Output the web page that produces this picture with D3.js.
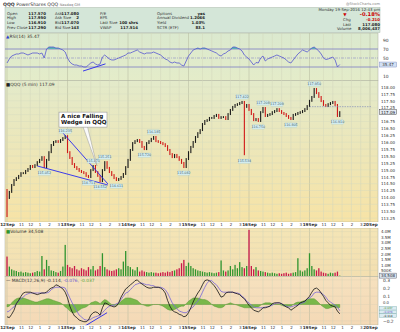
<!DOCTYPE html>
<html><head><meta charset="utf-8">
<script src="https://cdn.jsdelivr.net/npm/d3@7"></script>
<style>
html,body{margin:0;padding:0;background:#fff;}
svg{display:block;font-family:"DejaVu Sans",Verdana,sans-serif;}
</style></head><body>
<svg id="c" width="400" height="332"></svg>
<script>
// ---------- DATA (15-minute sampling of the 5-min chart) ----------
const dayLabels = ["12Sep","13Sep","14Sep","15Sep","16Sep","19Sep","20Sep"];
const hourLabels = ["11","12","1","2","3"];
const hourClock = [11,12,13,14,15];
const priceClose = [
113.98,114.20,114.45,114.63,114.70,114.78,114.88,114.88,114.96,115.03,115.14,115.10,115.17,115.28,115.36,115.46,115.10,115.36,115.64,115.90,116.01,116.04,116.01,116.08,116.15,116.22,
115.64,115.43,115.21,115.10,115.03,114.96,114.92,114.88,114.78,114.74,114.99,115.14,114.92,114.78,114.59,114.99,115.28,115.07,114.92,114.81,114.70,114.63,114.67,114.74,114.85,115.10,
115.36,115.72,115.97,116.04,116.08,116.01,115.83,115.75,115.97,116.04,116.12,116.19,116.04,116.01,115.97,115.93,115.86,115.72,115.57,115.46,115.54,115.46,115.36,115.25,115.10,115.39,
115.64,115.83,116.01,116.19,116.33,116.44,116.66,116.77,116.80,116.88,116.88,116.95,116.99,116.88,116.91,116.91,116.84,117.02,117.17,117.28,117.35,117.38,117.42,117.46,117.28,117.35,
117.17,117.02,116.80,116.84,116.77,117.09,117.24,116.95,116.99,117.02,117.09,117.13,117.20,117.13,117.06,117.02,116.95,116.88,116.84,116.99,117.02,117.06,117.09,117.13,117.20,117.31,
117.50,117.64,117.93,117.78,117.64,117.49,117.35,117.31,117.38,117.42,117.46,117.35,116.95,117.09];
const firstOpen = 114.27;
const spikeBar = [0, 306];
const spikeHigh = [114.27, 117.46];
const spikeLow = [113.29, 115.53];
const prevClose = 117.29;
const volumeM = [
1.75,0.85,0.6,0.5,0.45,0.35,0.4,0.3,0.35,0.3,0.25,0.3,0.35,0.45,0.4,1.8,0.6,1.45,0.9,0.5,0.45,0.35,0.3,0.45,0.85,2.8,
1.0,0.8,0.7,0.9,0.6,0.5,0.7,0.6,0.5,0.8,0.6,0.9,0.5,0.6,0.9,2.05,0.8,0.6,0.5,0.45,0.5,0.6,0.7,0.6,1.3,2.25,
0.9,0.8,0.6,0.5,0.8,0.4,0.5,0.4,0.35,0.3,0.35,0.3,0.3,0.25,0.3,0.35,0.3,0.4,0.35,0.45,0.5,0.6,0.7,1.15,1.45,0.9,
1.2,0.9,0.7,0.6,0.5,0.45,0.4,0.35,0.3,0.35,0.3,0.25,0.3,0.35,1.4,0.5,0.4,0.5,0.9,0.6,1.0,0.7,1.25,0.8,0.7,0.9,
4.15,0.9,0.6,0.8,0.5,0.45,0.4,0.35,0.3,0.25,0.3,0.25,0.2,0.25,0.2,0.25,0.3,0.2,0.25,0.3,0.35,1.6,0.5,0.4,0.5,0.7,
2.05,0.9,0.6,0.5,0.7,0.4,0.3,0.25,0.2,0.3,0.25,0.3,0.4,0.0345];
const rsi = [
38.9,47.8,54.4,56.7,58.9,58.9,61.1,61.1,58.9,56.7,58.9,61.1,61.1,61.1,58.9,61.1,50.0,70.0,74.4,74.4,74.4,72.2,72.2,70.0,67.8,63.3,
50.0,41.1,36.7,34.4,34.4,32.2,32.2,30.0,30.0,34.4,38.9,41.1,36.7,34.4,36.7,52.2,56.7,52.2,47.8,45.6,45.6,47.8,50.0,52.2,54.4,56.7,
61.1,61.1,63.3,65.6,67.8,63.3,61.1,58.9,61.1,61.1,61.1,63.3,61.1,58.9,56.7,52.2,47.8,45.6,41.1,38.9,41.1,38.9,38.9,34.4,32.2,43.3,
54.4,61.1,67.8,70.0,72.2,70.0,72.2,72.2,70.0,67.8,65.6,63.3,61.1,56.7,54.4,58.9,61.1,65.6,67.8,74.4,74.4,72.2,70.0,65.6,56.7,52.2,
47.8,41.1,34.4,40.0,38.9,50.0,54.4,43.3,47.8,50.0,52.2,54.4,56.7,54.4,52.2,50.0,45.6,41.1,38.9,45.6,52.2,58.9,63.3,67.8,65.6,63.3,
67.8,72.2,74.4,70.0,65.6,58.9,50.0,46.7,47.8,50.0,52.2,45.6,30.0,35.47];
const macd = [
-0.15,-0.16,-0.12,-0.07,0.01,0.05,0.10,0.14,0.15,0.15,0.15,0.14,0.13,0.12,0.13,0.14,0.14,0.15,0.18,0.20,0.21,0.24,0.23,0.21,0.19,0.15,
0.08,-0.02,-0.09,-0.14,-0.16,-0.19,-0.20,-0.21,-0.21,-0.19,-0.13,-0.10,-0.09,-0.10,-0.13,-0.04,0.02,0.01,-0.01,-0.02,-0.03,-0.02,0.02,0.09,0.14,0.19,
0.21,0.24,0.26,0.29,0.30,0.27,0.25,0.23,0.21,0.20,0.20,0.21,0.21,0.21,0.20,0.18,0.14,0.05,-0.02,-0.07,-0.09,-0.10,-0.12,-0.13,-0.15,-0.14,
-0.10,-0.04,0.03,0.09,0.14,0.18,0.24,0.29,0.30,0.29,0.26,0.23,0.19,0.14,0.09,0.10,0.14,0.15,0.15,0.15,0.14,0.13,0.12,0.09,0.07,0.03,
-0.01,-0.04,-0.07,-0.08,-0.09,-0.07,-0.04,-0.04,-0.03,-0.02,0.01,0.02,0.02,0.02,0.01,-0.01,-0.03,-0.04,-0.07,-0.05,-0.03,-0.01,0.02,0.03,0.04,0.07,
0.10,0.15,0.19,0.20,0.18,0.14,0.10,0.05,0.02,-0.01,-0.02,-0.03,-0.08,-0.114];
const signal = [
-0.09,-0.08,-0.05,-0.03,0.01,0.04,0.07,0.09,0.12,0.13,0.14,0.14,0.14,0.14,0.14,0.14,0.14,0.14,0.15,0.18,0.20,0.21,0.21,0.21,0.21,0.20,
0.14,0.08,0.02,-0.03,-0.08,-0.13,-0.15,-0.18,-0.19,-0.19,-0.18,-0.16,-0.15,-0.14,-0.13,-0.10,-0.07,-0.04,-0.02,-0.01,-0.01,0.01,0.02,0.06,0.10,0.14,
0.15,0.18,0.21,0.24,0.25,0.26,0.26,0.25,0.24,0.24,0.23,0.23,0.21,0.21,0.21,0.20,0.18,0.14,0.08,0.02,-0.02,-0.05,-0.08,-0.09,-0.10,-0.10,
-0.08,-0.05,-0.03,0.01,0.04,0.09,0.15,0.21,0.26,0.29,0.29,0.26,0.24,0.20,0.16,0.15,0.15,0.15,0.15,0.15,0.14,0.14,0.13,0.10,0.08,0.04,
0.02,-0.01,-0.03,-0.04,-0.04,-0.04,-0.04,-0.03,-0.03,-0.02,-0.01,0.01,0.02,0.02,0.01,-0.01,-0.02,-0.03,-0.03,-0.02,-0.01,-0.01,0.01,0.02,0.03,0.07,
0.08,0.10,0.14,0.15,0.15,0.14,0.12,0.09,0.05,0.03,0.01,-0.01,-0.03,-0.076];
const histogram = [
-0.03,-0.02,0.02,0.05,0.07,0.08,0.08,0.08,0.07,0.06,0.05,0.04,0.03,0.03,0.04,0.05,0.06,0.07,0.07,0.06,0.05,0.04,0.03,0.02,0.0,-0.03,
-0.05,-0.08,-0.10,-0.10,-0.09,-0.07,-0.05,-0.04,-0.03,-0.01,0.02,0.03,0.04,0.03,0.01,0.04,0.06,0.05,0.02,0.0,-0.01,-0.01,0.01,0.04,0.06,0.08,
0.08,0.08,0.07,0.06,0.05,0.02,0.0,-0.01,-0.02,-0.02,-0.01,0.0,0.0,0.0,-0.01,-0.02,-0.04,-0.06,-0.07,-0.07,-0.06,-0.05,-0.03,-0.02,-0.02,0.01,
0.04,0.06,0.08,0.08,0.08,0.07,0.06,0.06,0.05,0.03,0.0,-0.02,-0.03,-0.04,-0.04,-0.03,0.0,0.01,0.02,0.01,0.0,-0.01,-0.02,-0.03,-0.04,-0.04,
-0.04,-0.04,-0.04,-0.03,-0.03,-0.01,0.01,0.02,0.02,0.02,0.01,0.0,0.0,0.0,-0.01,-0.02,-0.02,-0.02,-0.02,0.0,0.02,0.03,0.03,0.04,0.05,0.06,
0.07,0.07,0.07,0.05,0.02,-0.01,-0.03,-0.05,-0.05,-0.04,-0.03,-0.03,-0.04,-0.037];
// price annotations: bar index, price, text, side
const annBar   = [48,75,105,111,120,126,141,177,189,228,303,306,324,330,348,366,396,426];
const annPrice = [115.10,116.22,114.74,115.14,114.59,115.28,114.63,115.75,116.19,115.10,117.46,115.53,116.77,117.24,117.20,116.84,117.93,116.95];
const annText  = ["115.052","116.235","114.711","115.171","114.552","115.251","114.611","115.720","116.185","115.082","117.422","115.534","116.750","117.208","117.209","116.805","117.950","116.910"];
const annSide  = ["below","above","below","above","below","above","below","below","above","below","above","below","below","above","above","below","above","below"];
// trend lines (bar index, value)
const wedgeLower = [[39,115.14],[130,114.45]];
const wedgeUpper = [[71,116.37],[130,114.49]];
const rsiTrend = [[98,21],[127,37]];
const macdTrend = [[101,-0.26],[129,-0.10]];
const callout = {bar:67, price:117.09, tipBar:116, tipPrice:115.14, lines:["A nice Falling","Wedge in QQQ"]};
const infoRows = [
 ["Open","117.570","Ask","117.080","P/E","","Options","yes"],
 ["High","117.950","Ask Size","2","EPS","","Annual Dividend","1.2066"],
 ["Low","116.910","Bid","117.070","Last Size","100 shrs","Yield","1.03%"],
 ["Prev Close","117.290","Bid Size","143","VWAP","117.514","SCTR (ETF)","83.1"]];
const lastInfo = {date:"Monday 19-Sep-2016 12:43 pm", pct:"-0.18%", chg:"-0.210", last:"117.080", volume:"8,006,437"};

// ---------- SCALES ----------
const svg = d3.select("#c");
const L = 5, R = 378;
const X = d3.scaleLinear().domain([-2.6, 478.3]).range([L, R]);
const barOf = j => Math.floor(j/26)*78 + (j%26)*3;
const yR = d3.scaleLinear().domain([0,100]).range([80.5,35.5]);
const yP = d3.scaleLinear().domain([113.11,118.254]).range([222,80]);
const yV = d3.scaleLinear().domain([0,4.32]).range([276,228]);
const yM = d3.scaleLinear().domain([-0.25,0.335]).range([325,277]);
const FS = 4.4;
const IFS = 3.9;

const panels = [
 {id:"rsi", top:33, bot:80.5, c0:"#dbe9cf", c1:"#e4ecc9"},
 {id:"price", top:80.5, bot:222, c0:"#e3eaca", c1:"#f7e3a6"},
 {id:"vol", top:228, bot:276.5, c0:"#f4e5b6", c1:"#f3dfb0"},
 {id:"macd", top:276.5, bot:325, c0:"#f6e1be", c1:"#f4d9b6"}];
const defs = svg.append("defs");
panels.forEach(p=>{
  const g = defs.append("linearGradient").attr("id","g_"+p.id).attr("x1",0).attr("x2",0).attr("y1",0).attr("y2",1);
  g.append("stop").attr("offset","0%").attr("stop-color",p.c0);
  g.append("stop").attr("offset","100%").attr("stop-color",p.c1);
  svg.append("rect").attr("x",L).attr("y",p.top).attr("width",R-L).attr("height",p.bot-p.top)
    .attr("fill","url(#g_"+p.id+")").attr("stroke","#a9ad9a").attr("stroke-width",0.5);
});

// time ticks
const tickBars = [];
dayLabels.forEach((d,i)=>{ tickBars.push(i*78); hourClock.forEach(h=>tickBars.push(i*78 + (h-9.5)*12)); });
const visTicks = tickBars.filter(b=>X(b)>=L-1 && X(b)<=R);
const isDay = b => b%78===0;

// vertical grid
panels.forEach(p=>{
  svg.append("g").selectAll("line").data(visTicks).join("line")
    .attr("x1",b=>X(b)).attr("x2",b=>X(b)).attr("y1",p.top).attr("y2",p.bot)
    .attr("stroke",b=>isDay(b)?"#b3b79c":"#d2d6bc").attr("stroke-width",0.5);
});
// horizontal grid
const priceTicks = d3.range(0,20).map(i=>113.25+0.25*i);
svg.append("g").selectAll("line").data(priceTicks).join("line")
  .attr("x1",L).attr("x2",R).attr("y1",d=>yP(d)).attr("y2",d=>yP(d)).attr("stroke","#d5d8bf").attr("stroke-width",0.4);
const volTicks = [0.5,1,1.5,2,2.5,3,3.5,4];
svg.append("g").selectAll("line").data(volTicks).join("line")
  .attr("x1",L).attr("x2",R).attr("y1",d=>yV(d)).attr("y2",d=>yV(d)).attr("stroke","#dcd3b4").attr("stroke-width",0.4);
const macdTicks = [-0.2,-0.1,0,0.1,0.2,0.3];
svg.append("g").selectAll("line").data(macdTicks).join("line")
  .attr("x1",L).attr("x2",R).attr("y1",d=>yM(d)).attr("y2",d=>yM(d)).attr("stroke","#dccfb4").attr("stroke-width",0.4);
// RSI reference lines
svg.append("line").attr("x1",L).attr("x2",R).attr("y1",yR(70)).attr("y2",yR(70)).attr("stroke","#7c7cc4").attr("stroke-width",0.8);
svg.append("line").attr("x1",L).attr("x2",R).attr("y1",yR(30)).attr("y2",yR(30)).attr("stroke","#7c7cc4").attr("stroke-width",0.8);
svg.append("line").attr("x1",L).attr("x2",R).attr("y1",yR(50)).attr("y2",yR(50)).attr("stroke","#8a8ac8").attr("stroke-width",0.6).attr("stroke-dasharray","3,1,1,1");

// ---------- HEADER / INFO ----------
const t = svg.append("text").attr("x",3).attr("y",5.5).attr("font-size",4.6).attr("fill","#333");
t.append("tspan").attr("font-weight","bold").text("QQQ ");
t.append("tspan").text("PowerShares QQQ ");
t.append("tspan").attr("fill","#777").attr("font-size",3.6).text("Nasdaq GM");
svg.append("text").attr("x",380).attr("y",4.5).attr("text-anchor","end").attr("font-size",3.6).attr("fill","#888").text("@StockCharts.com");
svg.append("rect").attr("x",L).attr("y",7.5).attr("width",R-L+2).attr("height",25).attr("fill","#d4e6d8").attr("stroke","#a9b8aa").attr("stroke-width",0.5);
const colLab = [7,55,100,157], colVal = [46,79,138,205];
infoRows.forEach((row,r)=>{
  const y = 14.5 + r*4.9;
  for(let c=0;c<4;c++){
    svg.append("text").attr("x",colLab[c]).attr("y",y).attr("font-size",IFS).attr("fill","#333").text(row[2*c]);
    svg.append("text").attr("x",colVal[c]).attr("y",y).attr("text-anchor","end").attr("font-size",IFS).attr("font-weight","bold").attr("fill","#222").text(row[2*c+1]);
  }
});
svg.append("text").attr("x",380).attr("y",11).attr("text-anchor","end").attr("font-size",IFS).attr("fill","#333").text(lastInfo.date);
svg.append("text").attr("x",345).attr("y",16).attr("text-anchor","middle").attr("font-size",4.3).attr("fill","#c00").text("▼");
svg.append("text").attr("x",380).attr("y",16.3).attr("text-anchor","end").attr("font-size",5.2).attr("font-weight","bold").attr("fill","#c00").text(lastInfo.pct);
[["Chg",lastInfo.chg,"#c00",21],["Last",lastInfo.last,"#222",25.6],["Volume",lastInfo.volume,"#222",30.2]].forEach(d=>{
  svg.append("text").attr("x",d[0]==="Volume"?337:343).attr("y",d[3]).attr("font-size",IFS).attr("fill","#333").text(d[0]);
  svg.append("text").attr("x",380).attr("y",d[3]).attr("text-anchor","end").attr("font-size",IFS).attr("font-weight","bold").attr("fill",d[2]).text(d[1]);
});

// ---------- RSI ----------
const rx = (d,j)=>X(barOf(j));
svg.append("path").datum(rsi).attr("fill","#5ab3b3")
  .attr("d",d3.area().x(rx).y0(yR(70)).y1(v=>yR(Math.max(v,70))));
svg.append("path").datum(rsi).attr("fill","#5ab3b3")
  .attr("d",d3.area().x(rx).y0(yR(30)).y1(v=>yR(Math.min(v,30))));
svg.append("path").datum(rsi).attr("fill","none").attr("stroke","#5656d0").attr("stroke-width",0.8)
  .attr("d",d3.line().x(rx).y(v=>yR(v)));
svg.append("line").attr("x1",X(rsiTrend[0][0])).attr("y1",yR(rsiTrend[0][1])).attr("x2",X(rsiTrend[1][0])).attr("y2",yR(rsiTrend[1][1]))
  .attr("stroke","#2424ee").attr("stroke-width",0.9);
const rl = svg.append("text").attr("x",6).attr("y",37.5).attr("font-size",FS).attr("fill","#333");
rl.append("tspan").attr("fill","#3344cc").text("▲");
rl.append("tspan").text("RSI(14) 35.47");

// ---------- PRICE ----------
const gP = svg.append("g");
priceClose.forEach((c,j)=>{
  const b = barOf(j);
  const prev = j ? priceClose[j-1] : firstOpen;
  let hi = Math.max(prev,c)+0.035, lo = Math.min(prev,c)-0.035;
  const si = spikeBar.indexOf(b);
  if(si>=0){ hi = Math.max(hi,spikeHigh[si]); lo = Math.min(lo,spikeLow[si]); }
  gP.append("rect").attr("x",X(b)-0.55).attr("width",1.1).attr("y",yP(hi)).attr("height",yP(lo)-yP(hi))
    .attr("fill", c<prev ? "#d01818" : "#1a1a1a");
});
svg.append("line").attr("x1",X(390)).attr("x2",X(470)).attr("y1",yP(prevClose)).attr("y2",yP(prevClose))
  .attr("stroke","#7a86b8").attr("stroke-width",0.6).attr("stroke-dasharray","1.5,1");
// wedge lines
[wedgeLower,wedgeUpper].forEach(w=>{
  svg.append("line").attr("x1",X(w[0][0])).attr("y1",yP(w[0][1])).attr("x2",X(w[1][0])).attr("y2",yP(w[1][1]))
    .attr("stroke","#2828f0").attr("stroke-width",0.9);
});
// annotation labels
annBar.forEach((b,i)=>{
  const cx = X(b), cy = yP(annPrice[i]) + (annSide[i]==="above" ? -5 : 6);
  svg.append("rect").attr("x",cx-6).attr("y",cy-2.1).attr("width",12).attr("height",4.2)
    .attr("fill","#d3ecef").attr("stroke","#a8cdd0").attr("stroke-width",0.3);
  svg.append("text").attr("x",cx).attr("y",cy+1.2).attr("text-anchor","middle").attr("font-size",3.3).attr("fill","#4a6570").text(annText[i]);
});
// callout
const bx = X(callout.bar), by = yP(callout.price);
svg.append("path").attr("d",`M${bx+24},${by+14.5} L${bx+28.5},${by+14.5} L${X(callout.tipBar)},${yP(callout.tipPrice)} Z`)
  .attr("fill","#fafafa").attr("stroke","#999").attr("stroke-width",0.5);
svg.append("rect").attr("x",bx).attr("y",by).attr("width",48).attr("height",15).attr("fill","#fff").attr("stroke","#999").attr("stroke-width",0.6);
callout.lines.forEach((s,i)=>svg.append("text").attr("x",bx+2).attr("y",by+6+i*6.3).attr("font-size",5.6).attr("font-weight","bold").attr("fill","#111").text(s));
const pl = svg.append("text").attr("x",6).attr("y",86).attr("font-size",FS).attr("fill","#333");
pl.append("tspan").attr("fill","#222").text("■");
pl.append("tspan").text("QQQ (5 min) 117.09");

// ---------- VOLUME ----------
volumeM.forEach((v,j)=>{
  const prev = j ? priceClose[j-1] : firstOpen;
  svg.append("rect").attr("x",X(barOf(j))-0.65).attr("width",1.3).attr("y",yV(v)).attr("height",yV(0)-yV(v))
    .attr("fill", priceClose[j]<prev ? "#c8184a" : "#2f942f");
});
const vl = svg.append("text").attr("x",6).attr("y",232.5).attr("font-size",FS).attr("fill","#333");
vl.append("tspan").attr("fill","#2f942f").text("■");
vl.append("tspan").text("Volume 34,508");

// ---------- MACD ----------
svg.append("path").datum(histogram).attr("fill","#79b84a").attr("stroke","#4d8a2b").attr("stroke-width",0.4)
  .attr("d",d3.area().x(rx).y0(yM(0)).y1(v=>yM(v)));
svg.append("path").datum(signal).attr("fill","none").attr("stroke","#7a66d8").attr("stroke-width",0.8)
  .attr("d",d3.line().x(rx).y(v=>yM(v)));
svg.append("path").datum(macd).attr("fill","none").attr("stroke","#111").attr("stroke-width",0.8)
  .attr("d",d3.line().x(rx).y(v=>yM(v)));
svg.append("line").attr("x1",X(macdTrend[0][0])).attr("y1",yM(macdTrend[0][1])).attr("x2",X(macdTrend[1][0])).attr("y2",yM(macdTrend[1][1]))
  .attr("stroke","#2424ee").attr("stroke-width",0.9);
const ml = svg.append("text").attr("x",6).attr("y",282).attr("font-size",FS).attr("fill","#333");
ml.append("tspan").text("— MACD(12,26,9) -0.114, ");
ml.append("tspan").attr("fill","#6a5ad0").text("-0.076, ");
ml.append("tspan").attr("fill","#5aa53a").text("-0.037");

// ---------- AXES ----------
function styleAxis(g){ g.select(".domain").remove(); g.selectAll("text").attr("font-size",FS).attr("fill","#333").attr("font-family","DejaVu Sans, sans-serif"); }
svg.append("rect").attr("x",0).attr("y",222).attr("width",400).attr("height",6).attr("fill","#fff");
svg.append("rect").attr("x",0).attr("y",325.3).attr("width",400).attr("height",6.7).attr("fill","#fff");
const tAxis = d3.axisBottom(X).tickValues(visTicks).tickSize(0).tickPadding(0.8)
  .tickFormat(b=> isDay(b) ? dayLabels[b/78] : hourLabels[hourClock.indexOf(Math.round((b%78)/12+9.5))]);
[222,325].forEach(y=>{
  const g = svg.append("g").attr("transform",`translate(0,${y})`).call(tAxis); styleAxis(g);
  g.selectAll("text").attr("font-weight",b=>isDay(b)?"bold":"normal").attr("font-size",b=>isDay(b)?4.2:4.0);
});
const gpa = svg.append("g").attr("transform",`translate(${R},0)`)
  .call(d3.axisRight(yP).tickValues(priceTicks.filter(v=>Math.abs(v-117)>0.01)).tickSize(0).tickPadding(3).tickFormat(d3.format(".2f")));
styleAxis(gpa); gpa.selectAll("text").attr("font-size",4.0);
const gra = svg.append("g").attr("transform",`translate(${R},0)`)
  .call(d3.axisRight(yR).tickValues([90,70,50,10]).tickSize(0).tickPadding(5).tickFormat(d3.format("d")));
styleAxis(gra);
const gva = svg.append("g").attr("transform",`translate(${R},0)`)
  .call(d3.axisRight(yV).tickValues(volTicks).tickSize(0).tickPadding(3).tickFormat(v=> v<1 ? "500K" : v.toFixed(1)+"M"));
styleAxis(gva); gva.selectAll("text").attr("font-size",4.0);
const gma = svg.append("g").attr("transform",`translate(${R},0)`)
  .call(d3.axisRight(yM).tickValues([0.3,0.2,0.1,-0.2]).tickSize(0).tickPadding(5).tickFormat(d3.format(".1f")));
styleAxis(gma);
svg.append("text").attr("x",R+5).attr("y",yM(0)-0.6).attr("font-size",3.8).attr("fill","#333").text("0.0");

// ---------- TAGS ----------
function tag(y,txt,fill,stroke,col,h){
  h = h||5;
  svg.append("rect").attr("x",R+1.5).attr("y",y-h/2).attr("width",17).attr("height",h).attr("fill",fill).attr("stroke",stroke).attr("stroke-width",0.4);
  svg.append("text").attr("x",R+10).attr("y",y+h*0.3).attr("text-anchor","middle").attr("font-size",h*0.8).attr("fill",col).text(txt);
}
tag(yP(117.09),"117.09","#e4eaf2","#222","#111");
tag(yR(35.47),"35.47","#d2e0f4","#6c7db8","#333");
tag(yV(0.0345),"34,508","#d9e5ee","#445","#223");
tag(308.3,"-0.037","#dcecf2","#7aa","#3d8a2a",3.6);
tag(311.9,"-0.076","#dcecf2","#7aa","#5a4ac0",3.6);
tag(315.5,"-0.114","#dcecf2","#7aa","#111",3.6);
</script>
</body></html>
